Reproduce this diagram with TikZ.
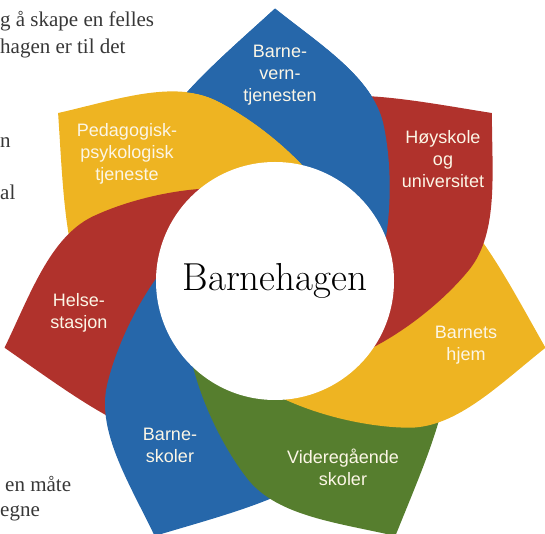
\documentclass[tikz,border=0pt]{standalone}
\usepackage{fontspec}
\usepackage{xcolor}
\newfontfamily\labelfont{Liberation Sans}
\newfontfamily\pagefont{Liberation Serif}

\definecolor{petalblue}{RGB}{38,103,170}
\definecolor{petalred}{RGB}{176,50,44}
\definecolor{petalyellow}{RGB}{238,180,34}
\definecolor{petalgreen}{RGB}{86,126,46}
\definecolor{labeltext}{RGB}{252,246,230}
\definecolor{pagetext}{RGB}{55,55,55}

% one petal, pointing up, tip at (0,272), drawn clockwise
\newcommand{\petalpath}{(0,0) -- (-55,95) .. controls (-85,110) and (-112,160) .. (-95,180) .. controls (-70,210) and (-35,240) .. (0,272) .. controls (45,236) and (95,205) .. (106,160) .. controls (115,120) and (116,60) .. (100,10) -- cycle}

\tikzset{
	petal/.style={shift={(0,-5)}, scale=1.02},
	hub/.style={circle, fill=white, minimum size=238pt, inner sep=0pt, font=\fontsize{39}{39}\selectfont},
	lbl/.style={text=labeltext, font=\labelfont\fontsize{18}{22}\selectfont, align=center},
	pagetxt/.style={text=pagetext, font=\pagefont\fontsize{21}{26}\selectfont, anchor=base west, inner sep=0pt},
}

\begin{document}
\begin{tikzpicture}[x=1pt, y=1pt]
		\useasboundingbox (-275,-253) rectangle (270,281);
		\clip (-275,-253) rectangle (270,281);

		%page text behind the figure
		\node[pagetxt] (line1) at (-275,254) {g å skape en felles};
		\node[pagetxt] (line2) at (-275,227) {hagen er til det};
		\node[pagetxt] (line3) at (-275,133) {n};
		\node[pagetxt] (line4) at (-275,81) {al};
		\node[pagetxt] (line5) at (-270,-210) {en måte};
		\node[pagetxt] (line6) at (-275,-235) {egne};

		%draw petals, each one lies on the next one clockwise
		\foreach \a/\c in {0/petalblue, 51.43/petalyellow, 102.86/petalred, 154.29/petalblue, 205.71/petalgreen, 257.14/petalyellow, 308.57/petalred}
		\fill[\c, petal, rotate=\a] \petalpath;

		%top petal again, over the red one but under the yellow one
		\begin{scope}[petal, rotate=51.43]
			\clip (-900,-900) -- (900,-900) -- (900,900) -- (-900,900) -- cycle \petalpath;
			\fill[petalblue, rotate=-51.43] \petalpath;
		\end{scope}

		%centre
		\node[hub] (hub) at (0,0) {Barnehagen};

		%names
		\node[lbl] (vern) at (5,206) {Barne-\\vern-\\tjenesten};
		\node[lbl] (hoy) at (168,122) {Høyskole\\og\\universitet};
		\node[lbl] (hjem) at (191,-64) {Barnets\\hjem};
		\node[lbl] (vgs) at (68,-186) {Videregående\\skoler};
		\node[lbl] (skole) at (-105,-164) {Barne-\\skoler};
		\node[lbl] (helse) at (-196,-32) {Helse-\\stasjon};
		\node[lbl] (ppt) at (-148,127) {Pedagogisk-\\psykologisk\\tjeneste};
\end{tikzpicture}
\end{document}
